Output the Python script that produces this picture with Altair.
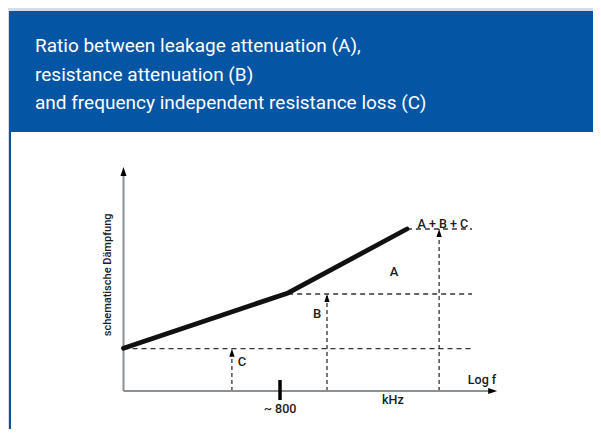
import altair as alt
import pandas as pd

# ---------------- data (schematic units, axes run 0..10) ----------------
title_lines = [
    "Ratio between leakage attenuation (A),",
    "resistance attenuation (B)",
    "and frequency independent resistance loss (C)",
]
y_axis_title = "schematische Dämpfung"

curve_x = [0.0, 4.45, 7.66]
curve_y = [1.9, 4.36, 7.2]

level_names = ["C", "B", "A + B + C"]
level_y = [1.88, 4.31, 7.2]
level_start_x = [0.0, 4.45, 7.66]
level_end_x = [9.42, 9.42, 9.42]

arrow_x = [2.93, 5.5, 8.53]
arrow_top = [1.88, 4.31, 7.2]

label_text = ["C", "B", "A"]
label_x = [3.2, 5.23, 7.31]
label_y = [1.29, 3.42, 5.29]

sum_label = "A + B + C"
sum_label_x = 8.63
sum_label_y = 7.2

axis_x_end = 10.1
axis_y_end = 9.96

tick_label = "~ 800"
tick_x = 4.23
tick_y = [0.49, -0.4]
tick_label_y = -0.8

unit_label = "kHz"
unit_label_x = 7.28
unit_label_y = -0.4
log_label = "Log f"
log_label_x = 9.69
log_label_y = 0.49

yt_x = -0.42
yt_y = 5.16

# ---------------- styling ----------------
W, H = 585, 421
BG = "#d5daec"
BLUE = "#0455a4"
AXIS_GRAY = "#8a9096"
FONT = "Roboto, sans-serif"

xs = alt.Scale(domain=[-115.5 / 37, (W - 115.5) / 37], nice=False, zero=False)
ys = alt.Scale(domain=[-(H - 383) / 22.5, 383 / 22.5], nice=False, zero=False)

one = pd.DataFrame({"k": [0]})


def X(f="x"):
    return alt.X(f"{f}:Q", scale=xs, axis=None)


def Y(f="y"):
    return alt.Y(f"{f}:Q", scale=ys, axis=None)


# background panels
blue_box = alt.Chart(one).mark_rect(color=BLUE).encode(
    x=alt.value(1), x2=alt.value(W), y=alt.value(3), y2=alt.value(H)
)
white_box = alt.Chart(one).mark_rect(color="white").encode(
    x=alt.value(3), x2=alt.value(W), y=alt.value(124), y2=alt.value(H)
)
title = alt.Chart(one).mark_text(
    text=title_lines, align="left", baseline="alphabetic", font=FONT,
    fontSize=19, color="white", lineHeight=28.5,
).encode(x=alt.value(27), y=alt.value(44))

# axes
axes_df = pd.DataFrame({
    "x": [0.0, 0.0], "y": [0.0, 0.0],
    "x2": [axis_x_end - 0.1, 0.0], "y2": [0.0, axis_y_end - 0.2],
})
axes = alt.Chart(axes_df).mark_rule(color=AXIS_GRAY, strokeWidth=2).encode(
    x=X(), y=Y(), x2="x2:Q", y2="y2:Q"
)
up_head = alt.Chart(pd.DataFrame({"x": [0.0], "y": [axis_y_end]})).mark_point(
    shape="M0,0L-0.75,2.25L0.75,2.25Z", filled=True, color="black", opacity=1, size=64
).encode(x=X(), y=Y())
right_head = alt.Chart(pd.DataFrame({"x": [axis_x_end], "y": [0.0]})).mark_point(
    shape="M0,0L-2.25,-0.75L-2.25,0.75Z", filled=True, color="black", opacity=1, size=64
).encode(x=X(), y=Y())

# dashed levels
lev_df = pd.DataFrame({"name": level_names, "x": level_start_x, "x2": level_end_x, "y": level_y})
levels = alt.Chart(lev_df).mark_rule(color="#333333", strokeWidth=1.3, strokeDash=[5, 4]).encode(
    x=X(), x2="x2:Q", y=Y()
)

# dashed arrows
arr_df = pd.DataFrame({"x": arrow_x, "y": arrow_top, "y0": [0.0] * 3})
arrows = alt.Chart(arr_df).mark_rule(color="#222222", strokeWidth=1.2, strokeDash=[4, 3]).encode(
    x=X(), y=Y("y0"), y2="y:Q"
)
arrow_heads = alt.Chart(arr_df).mark_point(
    shape="M0,0L-0.75,2.3L0.75,2.3Z", filled=True, color="black", opacity=1, size=49
).encode(x=X(), y=Y())

# curve
curve = alt.Chart(pd.DataFrame({"x": curve_x, "y": curve_y})).mark_line(
    color="#111111", strokeWidth=4.8, strokeCap="round", strokeJoin="round"
).encode(x=X(), y=Y())

# labels
labels = alt.Chart(pd.DataFrame({"t": label_text, "x": label_x, "y": label_y})).mark_text(
    font=FONT, fontSize=13, fontWeight=500, color="#1a1a1a", baseline="middle", align="center"
).encode(x=X(), y=Y(), text="t:N")
sum_lab = alt.Chart(pd.DataFrame({"t": [sum_label], "x": [sum_label_x], "y": [sum_label_y]})).mark_text(
    font=FONT, fontSize=12.5, fontWeight=500, color="#1a1a1a", baseline="alphabetic", align="center", dy=-1
).encode(x=X(), y=Y(), text="t:N")

misc_df = pd.DataFrame({
    "t": [tick_label, unit_label, log_label],
    "x": [tick_x, unit_label_x, log_label_x],
    "y": [tick_label_y, unit_label_y, log_label_y],
})
misc = alt.Chart(misc_df).mark_text(
    font=FONT, fontSize=12.5, fontWeight=500, color="#1a1a1a", baseline="middle", align="center"
).encode(x=X(), y=Y(), text="t:N")

tick = alt.Chart(pd.DataFrame({"x": [tick_x], "y": [tick_y[0]], "y2": [tick_y[1]]})).mark_rule(
    color="black", strokeWidth=3.5
).encode(x=X(), y=Y(), y2="y2:Q")

ytitle = alt.Chart(pd.DataFrame({"t": [y_axis_title], "x": [yt_x], "y": [yt_y]})).mark_text(
    font=FONT, fontSize=11, fontWeight=500, color="#1a1a1a", angle=270, baseline="middle", align="center"
).encode(x=X(), y=Y(), text="t:N")

chart = alt.layer(
    blue_box, white_box, title, levels, arrows, arrow_heads, axes, up_head, right_head,
    curve, tick, labels, sum_lab, misc, ytitle,
).properties(
    width=W, height=H, background=BG, padding=0, autosize=alt.AutoSizeParams(type="none")
).configure_view(strokeWidth=0)

chart.save("out.html", embed_options={"renderer": "svg", "actions": False})
